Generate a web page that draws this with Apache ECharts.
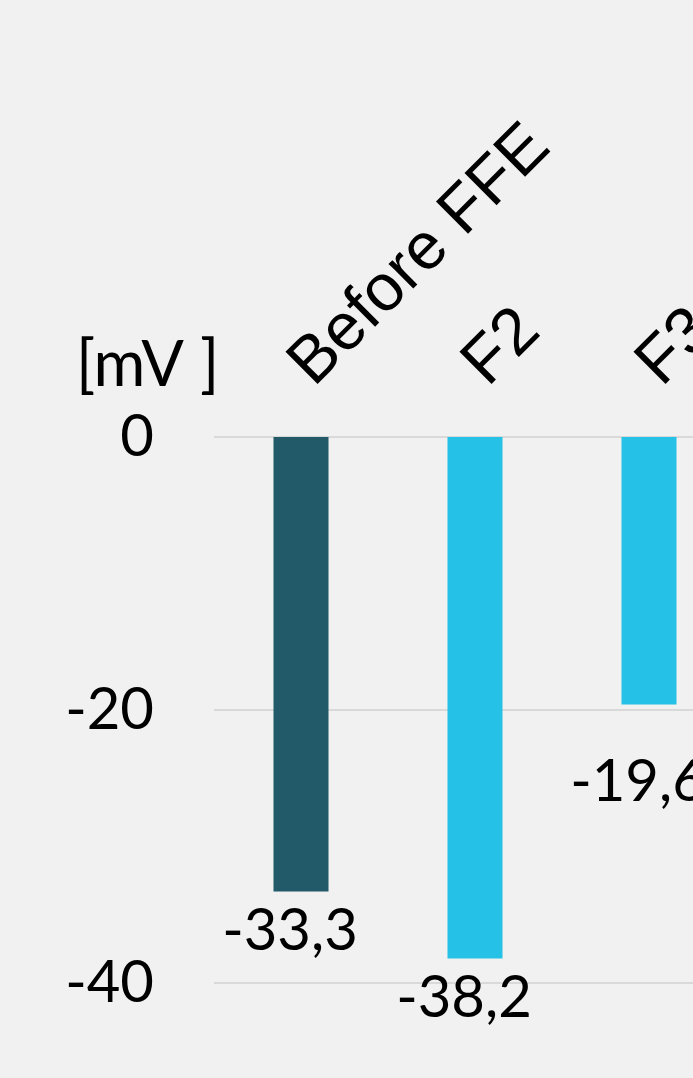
<!DOCTYPE html>
<html>
<head>
<meta charset="utf-8">
<script src="https://cdn.jsdelivr.net/npm/echarts@6/dist/echarts.min.js"></script>
<style>
  html, body { margin: 0; padding: 0; background: #f1f1f1; }
  #chart { width: 693px; height: 1078px; }
</style>
</head>
<body>
<div id="chart"></div>
<script>
// Zeta potential per stage, in mV
const categories = ['Before FFE', 'F2', 'F3'];
const potentials = [-33.3, -38.2, -19.6];
const yTicks = { min: -40, max: 0, step: 20 };
const unitLabel = '[mV ]';

const numFont = 'Lato, "Open Sans", sans-serif';
const catFont = '"Liberation Sans", Arial, sans-serif';

// a label that would sit right on a gridline just below the bar end is pushed under it
const gridValues = [];
for (let v = yTicks.min; v <= yTicks.max; v += yTicks.step) gridValues.push(v);
const nearGrid = v => gridValues.some(g => v > g && v - g < 1);

const barData = potentials.map(v => (
  nearGrid(v) ? { value: v, label: { offset: [-11, 38] } } : v
));

const chart = echarts.init(document.getElementById('chart'), null, { renderer: 'canvas' });

chart.setOption({
  backgroundColor: '#f1f1f1',
  animation: false,
  // plot area runs past the right edge of the canvas
  grid: {
    left: 214, right: -43, top: 437, bottom: 95,
    containLabel: false,
    outerBoundsMode: 'none'
  },
  graphic: [{
    type: 'text',
    x: 76,
    y: 366,
    style: {
      text: unitLabel,
      font: '63px ' + numFont,
      fill: '#000',
      textAlign: 'left',
      textVerticalAlign: 'middle'
    }
  }],
  xAxis: {
    type: 'category',
    position: 'top',
    data: categories,
    axisLine: { show: false },
    axisTick: { show: false },
    axisLabel: {
      interval: 0,
      rotate: 45,
      margin: 62,
      color: '#000',
      fontFamily: catFont,
      fontSize: 66
    }
  },
  yAxis: {
    type: 'value',
    min: yTicks.min,
    max: yTicks.max,
    interval: yTicks.step,
    axisLine: { show: false },
    axisTick: { show: false },
    splitLine: { lineStyle: { color: '#d9d9d9', width: 2 } },
    axisLabel: {
      margin: 60,
      color: '#000',
      fontFamily: numFont,
      fontSize: 58
    }
  },
  series: [{
    type: 'bar',
    data: barData,
    barWidth: 55,
    itemStyle: {
      color: p => (p.dataIndex === 0 ? '#225a69' : '#25c1e6')
    },
    label: {
      show: true,
      position: 'bottom',
      distance: 11,
      offset: [-11, 0],
      color: '#000',
      fontFamily: numFont,
      fontSize: 58,
      formatter: p => p.value.toFixed(1).replace('.', ',')
    }
  }]
});
</script>
</body>
</html>
